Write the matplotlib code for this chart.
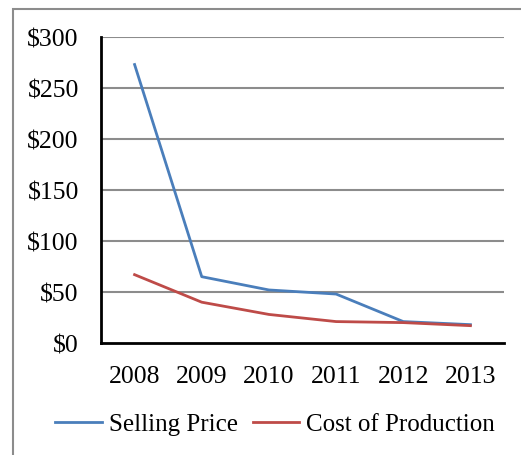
import matplotlib
matplotlib.use('Agg')
import matplotlib.pyplot as plt
from matplotlib.patches import Rectangle

years = ['2008', '2009', '2010', '2011', '2012', '2013']
selling_price = [273, 65, 52, 48, 21, 18]
cost_production = [67, 40, 28, 21, 20, 17]
yticks = [0, 50, 100, 150, 200, 250, 300]

plt.rcParams['font.family'] = ['Liberation Serif', 'DejaVu Serif']

W, H = 521, 456
fig = plt.figure(figsize=(W / 100, H / 100), dpi=100)
ax = fig.add_axes([101 / W, 1 - 344 / H, 403 / W, 306 / H])

x = list(range(len(years)))
ax.plot(x, selling_price, color='#4a7ebb', lw=2, label='Selling Price')
ax.plot(x, cost_production, color='#be4b48', lw=2, label='Cost of Production')

ax.set_xlim(-0.5, len(years) - 0.5)
ax.set_ylim(0, 300)
ax.set_xticks(x)
ax.set_xticklabels(years)
ax.set_yticks(yticks)
ax.set_yticklabels(['$' + str(v) for v in yticks])
ax.tick_params(length=0, labelsize=18.5)
ax.tick_params(axis='y', pad=16)
ax.tick_params(axis='x', pad=16)

for v in yticks[1:]:
    ax.axhline(v, color='#8c8c8c', lw=1.5, zorder=0)

for s in ['top', 'right']:
    ax.spines[s].set_visible(False)
for s in ['left', 'bottom']:
    ax.spines[s].set_linewidth(2)
    ax.spines[s].set_color('black')

leg = ax.legend(loc='center', bbox_to_anchor=(275 / W, 1 - 425 / H), bbox_transform=fig.transFigure,
                ncol=2, frameon=False, fontsize=18, handlelength=1.87,
                handletextpad=0.27, columnspacing=0.6)

fig.patches.append(Rectangle((13 / W, -0.1), 1.2, 1 - 10 / H + 0.1,
                             transform=fig.transFigure, fill=False,
                             edgecolor='#8c8c8c', lw=1.5))

fig.savefig('out.png', dpi=100)
